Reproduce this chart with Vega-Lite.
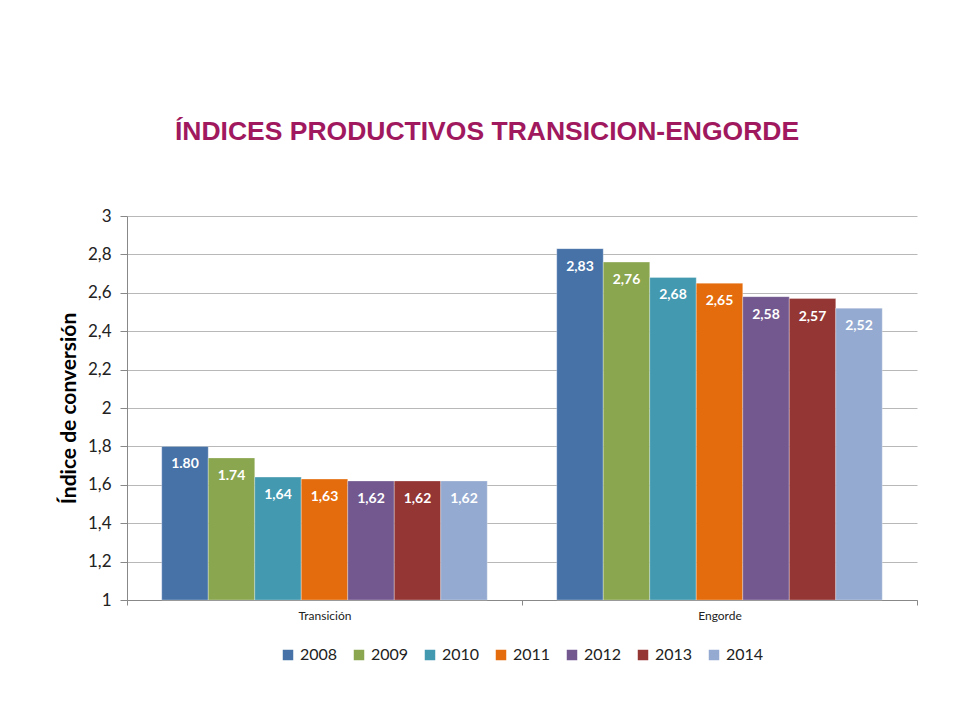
{
  "$schema": "https://vega.github.io/schema/vega-lite/v6.json",
  "width": 790,
  "height": 384,
  "autosize": {"type": "none"},
  "padding": {"left": 127, "top": 216, "right": 37, "bottom": 122},
  "background": "white",
  "title": {
    "text": "ÍNDICES PRODUCTIVOS TRANSICION-ENGORDE",
    "font": "Liberation Sans",
    "fontSize": 26.5,
    "fontWeight": "bold",
    "color": "#A0185E",
    "anchor": "middle",
    "frame": "group",
    "baseline": "alphabetic",
    "dx": -35,
    "offset": 41
  },
  "data": {
    "values": [
      {"group": "Transición", "year": "2008", "value": 1.80, "label": "1.80"},
      {"group": "Transición", "year": "2009", "value": 1.74, "label": "1.74"},
      {"group": "Transición", "year": "2010", "value": 1.64, "label": "1,64"},
      {"group": "Transición", "year": "2011", "value": 1.63, "label": "1,63"},
      {"group": "Transición", "year": "2012", "value": 1.62, "label": "1,62"},
      {"group": "Transición", "year": "2013", "value": 1.62, "label": "1,62"},
      {"group": "Transición", "year": "2014", "value": 1.62, "label": "1,62"},
      {"group": "Engorde", "year": "2008", "value": 2.83, "label": "2,83"},
      {"group": "Engorde", "year": "2009", "value": 2.76, "label": "2,76"},
      {"group": "Engorde", "year": "2010", "value": 2.68, "label": "2,68"},
      {"group": "Engorde", "year": "2011", "value": 2.65, "label": "2,65"},
      {"group": "Engorde", "year": "2012", "value": 2.58, "label": "2,58"},
      {"group": "Engorde", "year": "2013", "value": 2.57, "label": "2,57"},
      {"group": "Engorde", "year": "2014", "value": 2.52, "label": "2,52"}
    ]
  },
  "encoding": {
    "x": {
      "field": "group",
      "type": "nominal",
      "sort": ["Transición", "Engorde"],
      "scale": {"paddingInner": 0, "paddingOuter": 0},
      "axis": {
        "title": null,
        "labelAngle": 0,
        "labelFont": "Lato",
        "labelFontSize": 12,
        "labelColor": "#222222",
        "labelPadding": 5,
        "tickBand": "extent",
        "tickSize": 5,
        "tickColor": "#888888",
        "domainColor": "#888888",
        "grid": false
      }
    },
    "xOffset": {
      "field": "year",
      "type": "nominal",
      "scale": {"paddingInner": 0, "paddingOuter": 0.747}
    },
    "y": {
      "field": "value",
      "type": "quantitative",
      "scale": {"domain": [1, 3], "nice": false, "zero": false},
      "axis": {
        "title": "Índice de conversión",
        "titleFont": "Lato",
        "titleFontSize": 21,
        "titleFontWeight": "bold",
        "titleColor": "#000000",
        "titlePadding": 8,
        "values": [1, 1.2, 1.4, 1.6, 1.8, 2, 2.2, 2.4, 2.6, 2.8, 3],
        "labelExpr": "replace(format(datum.value, '.1~f'), '.', ',')",
        "labelFont": "Lato",
        "labelFontSize": 17,
        "labelColor": "#222222",
        "labelPadding": 9,
        "tickSize": 7,
        "tickColor": "#888888",
        "domainColor": "#888888",
        "gridColor": "#b8b8b8",
        "gridWidth": 1
      }
    }
  },
  "layer": [
    {
      "mark": {"type": "bar", "stroke": "#ffffff", "strokeWidth": 0.5, "strokeOpacity": 0.6},
      "encoding": {
        "y2": {"datum": 1},
        "color": {
          "field": "year",
          "type": "nominal",
          "scale": {
            "domain": ["2008", "2009", "2010", "2011", "2012", "2013", "2014"],
            "range": ["#4672A8", "#8AA64F", "#4299B0", "#E46C0C", "#72588F", "#933634", "#94AAD1"]
          },
          "legend": {
            "title": null,
            "orient": "bottom",
            "direction": "horizontal",
            "symbolType": "square",
            "symbolSize": 110,
            "symbolStrokeWidth": 0,
            "labelFont": "Lato",
            "labelFontSize": 16,
            "labelColor": "#222222",
            "columnPadding": 13,
            "offset": 26
          }
        }
      }
    },
    {
      "mark": {
        "type": "text",
        "color": "#ffffff",
        "font": "Lato",
        "fontSize": 14,
        "fontWeight": "bold",
        "baseline": "top",
        "dy": 11
      },
      "encoding": {
        "text": {"field": "label"}
      }
    }
  ],
  "config": {
    "view": {"stroke": null},
    "legend": {"layout": {"bottom": {"anchor": "middle"}}}
  }
}
